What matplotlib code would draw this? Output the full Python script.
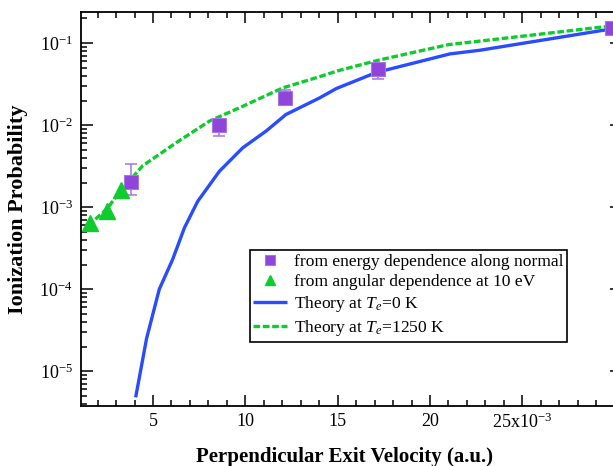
import numpy as np
import matplotlib
matplotlib.use("Agg")
import matplotlib.pyplot as plt
from matplotlib.ticker import FixedLocator, MultipleLocator, FuncFormatter, LogLocator

plt.rcParams["font.family"] = ["Liberation Serif", "DejaVu Serif"]
plt.rcParams["mathtext.fontset"] = "custom"
plt.rcParams["mathtext.rm"] = "Liberation Serif"
plt.rcParams["mathtext.it"] = "Liberation Serif:italic"
plt.rcParams["mathtext.bf"] = "Liberation Serif:bold"

# measured points (velocity in a.u.)
energy_v = [3.8e-3, 8.6e-3, 12.15e-3, 17.2e-3, 29.85e-3]
energy_p = [2.05e-3, 1.0e-2, 2.15e-2, 4.8e-2, 0.155]
energy_lo = [1.39e-3, 7.3e-3, 1.74e-2, 3.7e-2, 0.14]
energy_hi = [3.4e-3, 1.15e-2, 2.7e-2, 5.4e-2, 0.17]

angular_v = [1.6e-3, 2.5e-3, 3.26e-3]
angular_p = [6.4e-4, 9.0e-4, 1.6e-3]

# theory curves
t0_v = [4.06e-3, 4.65e-3, 5.34e-3, 6.06e-3, 6.7e-3, 7.42e-3, 8.6e-3, 9.86e-3,
        11.13e-3, 12.2e-3, 14.02e-3, 14.93e-3, 17.1e-3, 21.08e-3, 22.7e-3, 29.9e-3]
t0_p = [4.8e-6, 2.5e-5, 1.0e-4, 2.3e-4, 5.6e-4, 1.18e-3, 2.75e-3, 5.3e-3,
        8.5e-3, 1.35e-2, 2.15e-2, 2.8e-2, 4.4e-2, 7.4e-2, 8.2e-2, 0.15]
t1250_v = [1.5e-3, 2.5e-3, 3.26e-3, 4.44e-3, 6.25e-3, 8.05e-3, 9.86e-3, 12.03e-3,
           14.02e-3, 15.0e-3, 17.2e-3, 21.0e-3, 22.7e-3, 29.9e-3]
t1250_p = [6.0e-4, 9.5e-4, 1.6e-3, 3.2e-3, 6.1e-3, 1.12e-2, 1.7e-2, 2.85e-2,
           3.9e-2, 4.6e-2, 6.2e-2, 9.6e-2, 0.106, 0.163]

x_major = [5e-3, 10e-3, 15e-3, 20e-3, 25e-3]

purple = "#8f45d9"
purple_err = "#a872e6"
green = "#0fcc2e"
blue = "#2a4cff"

fig = plt.figure(figsize=(6.13, 4.66), dpi=100)
# right spine sits just outside the picture, as in the original crop
ax = fig.add_axes([81 / 613, 60.3 / 466, 541 / 613, 393.7 / 466])

ax.plot(t0_v, t0_p, color=blue, lw=2.4, solid_capstyle="butt",
        label=r"Theory at $T_e$=0 K", zorder=2)
ax.plot(t1250_v, t1250_p, color=green, lw=2.4, dashes=(2, 0.8),
        label=r"Theory at $T_e$=1250 K", zorder=3)

ev = np.array(energy_v)
ep = np.array(energy_p)
yerr = [ep - np.array(energy_lo), np.array(energy_hi) - ep]
ax.errorbar(ev, ep, yerr=yerr, fmt="none", ecolor=purple_err, elinewidth=1.1,
            capsize=4, capthick=1.1, zorder=4)
ax.plot(ev, ep, ls="none", marker="s", ms=10.5, color=purple, mec="#a874e8",
        mew=0.8, label="from energy dependence along normal", zorder=5)
ax.plot(angular_v, angular_p, ls="none", marker="^", ms=11, color=green,
        mec=green, label="from angular dependence at 10 eV", zorder=5)

ax.set_yscale("log")
ax.set_xlim(1.1e-3, 30.4e-3)
ax.set_ylim(3.8e-6, 0.24)

ax.xaxis.set_major_locator(FixedLocator(x_major))
ax.xaxis.set_minor_locator(MultipleLocator(1e-3))


def xfmt(v, pos):
    n = int(round(v * 1e3))
    if n == 25:
        return "25x10$^{-3}$"
    return str(n)


ax.xaxis.set_major_formatter(FuncFormatter(xfmt))
ax.yaxis.set_major_locator(LogLocator(base=10, numticks=20))
ax.yaxis.set_minor_locator(LogLocator(base=10, subs=np.arange(2, 10), numticks=20))

ax.tick_params(which="both", direction="in", top=True, right=True, width=1.1,
               labelsize=13, colors="black")
ax.tick_params(axis="x", which="major", length=8, pad=5)
ax.tick_params(axis="y", which="major", length=8.6, pad=6)
ax.tick_params(which="minor", length=4.2)
for s in ax.spines.values():
    s.set_linewidth(1.3)

ax.set_xlabel("Perpendicular Exit Velocity (a.u.)", fontsize=15, fontweight="bold")
ax.xaxis.set_label_coords((345 - 81) / 541, -0.105)
ax.xaxis.label.set_va("top")
ax.set_ylabel("Ionization Probability", fontsize=16, fontweight="bold", labelpad=8)

h, l = ax.get_legend_handles_labels()
order = [2, 3, 0, 1]
leg = ax.legend([h[i] for i in order], [l[i] for i in order], loc="upper right",
                bbox_to_anchor=((567 - 81) / 541, 0.3955), borderaxespad=0,
                fontsize=12.6, frameon=True, fancybox=False, framealpha=1,
                edgecolor="black", handlelength=1.9, handletextpad=0.4,
                labelspacing=0.22, borderpad=0.22, numpoints=1, markerscale=0.7)
leg.get_frame().set_linewidth(1.2)

fig.savefig("out.png", dpi=100)
